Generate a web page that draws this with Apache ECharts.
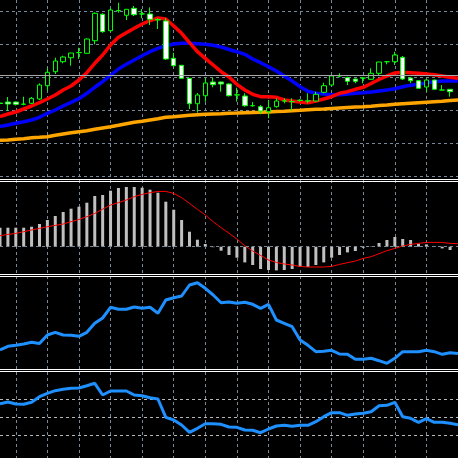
<!DOCTYPE html>
<html>
<head>
<meta charset="utf-8">
<title>chart</title>
<script src="https://cdn.jsdelivr.net/npm/echarts@6/dist/echarts.min.js"></script>
<style>
html, body { margin: 0; padding: 0; background: #000; }
#chart { width: 458px; height: 458px; }
</style>
</head>
<body>
<div id="chart"></div>
<script>
// price bars: [open, close, low, high] (points)
const candles = [
  [73, 72.5, 70, 76], [74, 72, 65, 79], [74, 71.7, 70.5, 74.5], [71.7, 71.9, 70.7, 79.3],
  [72.7, 77.7, 72, 79], [77, 91, 76, 92.7], [90.3, 103.7, 85.3, 107.7], [104.3, 115, 102, 118.3],
  [114.3, 119, 112.7, 120.3], [118.3, 123, 110.3, 123], [123.3, 123.5, 117, 128.3], [122.7, 137, 122.7, 137.5],
  [135.3, 162.7, 131.7, 163.7], [161.7, 144.3, 143.3, 162.7], [145.3, 166, 144.3, 167.7], [165.3, 165.5, 163.3, 173.3],
  [160.7, 166.7, 156, 167], [167.7, 161.3, 160, 170], [162, 162.2, 157.7, 167], [162, 156.7, 151, 168.7],
  [156.5, 156, 147, 157.7], [155, 117, 116, 157.7], [117.7, 110.3, 109.3, 123.3], [110.7, 97.7, 97, 111],
  [97.7, 72.3, 67, 98], [72.3, 81, 63.3, 83], [80.3, 93, 74.3, 98], [94, 91.3, 88.7, 98.3],
  [94, 92, 84.3, 94.3], [92, 80.3, 79.5, 92.5], [81, 81.2, 74.3, 88.3], [80, 70.3, 69.3, 82.7],
  [70.3, 70.3, 69.3, 74], [69.3, 65, 61.7, 71], [64.3, 68.3, 57.7, 76], [69.3, 75, 68.3, 77.7],
  [75, 75.2, 72.7, 77.7], [74.3, 74.5, 65.3, 77.7], [75.7, 75.7, 74.3, 76.7], [75, 75.2, 72.7, 82.7],
  [75, 81.7, 74.3, 84.3], [83.7, 90.3, 82.7, 93.3], [91, 100, 90.3, 101], [100, 100.2, 98.7, 102.7],
  [98.3, 94.7, 91, 99.3], [97, 94.7, 92.7, 97.5], [98, 98, 92.7, 98.7], [96.7, 102.7, 96, 107.7],
  [102.7, 114, 101, 114.3], [114.3, 114.3, 111.7, 115], [114.3, 121, 111, 124.3], [118.7, 97, 96, 120],
  [98, 95.3, 93, 98.7], [95.3, 87.7, 87.3, 96], [89, 96, 84.3, 96], [96, 86.7, 86, 96.3],
  [86, 86, 86, 91], [86.7, 84.3, 79.3, 87], '-'
];
const categories = candles.map((c, i) => 'bar' + i);

// moving averages on the price pane
const maFast = [59.5, 62, 64, 67, 70, 73.3, 77, 81, 86, 90, 96, 103.3, 112.7, 121, 131, 138.7, 143.3, 147.7, 152, 155.3,
  158, 157, 150, 142.7, 133.3, 124.3, 117.7, 111, 104.3, 99, 91.7, 86, 81.7, 79.3, 79.3, 78.7, 76, 75, 74, 73.3,
  75, 77, 79.3, 82.7, 84.3, 86.7, 88.7, 92.5, 96.5, 100, 103, 103.7, 103.3, 102.7, 102, 101.3, 100, 98.7, 97.8];
const maMid = [49.5, 51, 52.7, 54.3, 56, 58.7, 62.7, 66, 70, 73.7, 77.3, 82.7, 88.7, 94.3, 100.7, 107, 111.7, 116, 120.3, 124.3,
  127.7, 130.3, 132, 132.7, 132.7, 132.3, 131.7, 130.7, 129, 126.5, 124.3, 121.7, 117, 113.3, 109.3, 105, 100, 95, 89.3, 84.7,
  82.7, 82, 81.3, 81.3, 82, 82.7, 83.3, 84, 85, 86, 87.3, 89.3, 90.7, 91.7, 93, 94.3, 95, 95, 95];
const maSlow = [35.7, 36, 36.7, 37.3, 38.3, 38.7, 39.3, 40.7, 42, 43.3, 44.3, 45.3, 46.7, 48, 49.3, 50.7, 52.3, 53.7, 54.7, 56,
  57.3, 58.7, 59.3, 60, 60.7, 61.3, 61.7, 62, 62.3, 62.8, 63, 63.3, 63.5, 63.7, 64, 64.5, 64.8, 65.3, 65.7, 66.3,
  66.7, 67, 67.5, 68, 68.5, 69, 69.3, 69.8, 70.5, 71, 71.7, 72.2, 72.7, 73.2, 73.7, 74.2, 74.7, 75.5, 76];
const bidLevel = 100.7;
const priceLevels = { min: 0, max: 165, step: 33 };

// MACD histogram and signal
const macdHist = [19, 19, 19, 19, 20, 22.7, 26.7, 30.7, 34.7, 38, 40, 44, 50.7, 51.7, 56, 58.7, 59.7, 59.7, 59, 57,
  54, 45, 37, 26.7, 15, 7, 2.7, -0.5, -4, -8.3, -11, -15.7, -18.3, -22.3, -23.3, -23.7, -23.3, -22.3, -20.3, -20.3,
  -18.3, -15.7, -11, -8.3, -5.7, -4.3, -1, -0.3, 3.7, 6.7, 9.7, 7.7, 6.7, 3, 2.3, 0.7, -1.7, -3.3, '-'];
const macdSignal = [11, 12.3, 13.3, 15, 16.7, 18.3, 20, 21.3, 22.7, 25, 27.3, 30, 33.3, 37.5, 41.7, 44, 46.7, 50, 52.3, 54,
  55.3, 55.3, 53.3, 49, 43.3, 37.3, 31.7, 25, 19, 13.5, 7.7, 1, -4.3, -8.7, -13.3, -15.7, -17.3, -18.3, -19.7, -20.3,
  -20.3, -20.3, -19.7, -17.7, -16, -14.3, -11.7, -10, -7, -4, -1.7, 0.7, 2.3, 3.3, 4.3, 4.3, 4.3, 3.3, 3];

// third and fourth panes
const osc1 = [20, 23.7, 24.7, 26, 27.7, 26.5, 35, 37.7, 35, 34.7, 33.7, 37.7, 46.7, 52, 62.7, 60.7, 60.7, 63, 61.7, 62.7,
  56.7, 70, 72.3, 74, 85, 87.3, 81.7, 75, 67.3, 68, 66.7, 67.7, 65.7, 61.7, 65.7, 50, 46.7, 43.3, 30, 24.7,
  18.3, 18.7, 19.7, 16, 15.7, 10.7, 10.7, 11.7, 9.3, 6.7, 11.7, 18.3, 18.3, 18.3, 19.7, 18.3, 15.7, 17.3, 16.5];
const osc2 = [31.6, 33.3, 31.3, 31, 33, 38.6, 42, 44.6, 46, 47, 47.3, 49.6, 52, 40.3, 44.3, 44.3, 44.3, 40.3, 39.6, 37.6,
  36.3, 18, 15.3, 10.3, 3, 7, 11.6, 11.6, 11, 8.3, 8, 5.3, 5, 2.6, 6.3, 9.3, 10, 9, 10, 10,
  13.6, 18.6, 22.6, 22.6, 20, 21.3, 22, 23.6, 29.6, 30, 33, 18.6, 17, 13, 16.6, 13, 13, 12, 10.5];
const osc2Levels = { min: 0, max: 36, step: 18 };

let gridColor = '#778899';
let dash = [3, 3];
let plotLeft = -1.7, plotWidth = 464;

function catAxis(gridIndex, withSplit) {
  return {
    type: 'category', gridIndex: gridIndex, data: categories, boundaryGap: false,
    axisLine: { show: false }, axisTick: { show: false }, axisLabel: { show: false },
    splitLine: {
      show: withSplit,
      interval: function (index) { return (index - 2) % 4 === 0; },
      lineStyle: { color: gridColor, type: dash, width: 1 }
    }
  };
}
function valAxis(gridIndex, min, max, step, lineColor) {
  return {
    type: 'value', gridIndex: gridIndex, min: min, max: max, interval: step,
    axisLine: { show: false }, axisTick: { show: false }, axisLabel: { show: false },
    splitLine: { show: !!lineColor, lineStyle: { color: lineColor || gridColor, type: dash, width: 1 } }
  };
}
function sepLine(y) {
  return { type: 'line', silent: true, z: 100, shape: { x1: 0, y1: y, x2: 458, y2: y }, style: { stroke: '#ffffff', lineWidth: 1 } };
}

let myChart = echarts.init(document.getElementById('chart'), null, { renderer: 'canvas' });
let option = {
  backgroundColor: '#000000',
  animation: false,
  grid: [
    { left: plotLeft, width: plotWidth, top: 11, height: 165 },
    { left: plotLeft, width: plotWidth, top: 182.7, height: 90 },
    { left: plotLeft, width: plotWidth, top: 280, height: 90 },
    { left: plotLeft, width: plotWidth, top: 399.3, height: 36 },
    { left: plotLeft, width: plotWidth, top: 0, height: 458 } // only for the vertical grid
  ],
  xAxis: [catAxis(0, false), catAxis(1, false), catAxis(2, false), catAxis(3, false), catAxis(4, true)],
  yAxis: [
    valAxis(0, priceLevels.min, priceLevels.max, priceLevels.step, gridColor),
    valAxis(1, -26, 64, 90, null),
    valAxis(2, 0, 90, 90, null),
    valAxis(3, osc2Levels.min, osc2Levels.max, osc2Levels.step, '#b8b8b8'),
    { type: 'value', gridIndex: 4, show: false, min: 0, max: 1 }
  ],
  graphic: [sepLine(179.5), sepLine(181.5), sepLine(274.5), sepLine(276.5), sepLine(369.5), sepLine(371.5)],
  series: [
    {
      type: 'line', xAxisIndex: 0, yAxisIndex: 0, data: maSlow, z: 2, clip: false,
      showSymbol: false, silent: true, lineStyle: { color: '#ffa500', width: 3.5 }
    },
    {
      type: 'line', xAxisIndex: 0, yAxisIndex: 0, data: maMid, z: 2, clip: false,
      showSymbol: false, silent: true, lineStyle: { color: '#0000ff', width: 3.5 }
    },
    {
      type: 'line', xAxisIndex: 0, yAxisIndex: 0, data: maFast, z: 2, clip: false,
      showSymbol: false, silent: true, lineStyle: { color: '#ff0000', width: 3.5 }
    },
    {
      type: 'candlestick', xAxisIndex: 0, yAxisIndex: 0, data: candles, z: 3, clip: false,
      barWidth: 5, silent: true,
      itemStyle: {
        color: '#000000', color0: '#ffffff',
        borderColor: '#00ff00', borderColor0: '#00ff00', borderColorDoji: '#00ff00', borderWidth: 1
      },
      markLine: {
        silent: true, symbol: ['none', 'none'], label: { show: false },
        lineStyle: { color: '#a8a8a8', type: 'solid', width: 1 },
        data: [{ yAxis: bidLevel }]
      }
    },
    {
      type: 'bar', xAxisIndex: 1, yAxisIndex: 1, data: macdHist, barWidth: 3, silent: true,
      itemStyle: { color: '#c0c0c0' },
      markLine: {
        silent: true, symbol: ['none', 'none'], label: { show: false },
        lineStyle: { color: gridColor, type: dash, width: 1 },
        data: [{ yAxis: 0 }]
      }
    },
    {
      type: 'line', xAxisIndex: 1, yAxisIndex: 1, data: macdSignal, z: 3,
      showSymbol: false, silent: true, lineStyle: { color: '#ff0000', width: 1 }
    },
    {
      type: 'line', xAxisIndex: 2, yAxisIndex: 2, data: osc1, clip: false,
      showSymbol: false, silent: true, lineStyle: { color: '#1e90ff', width: 3 }
    },
    {
      type: 'line', xAxisIndex: 3, yAxisIndex: 3, data: osc2, clip: false,
      showSymbol: false, silent: true, lineStyle: { color: '#1e90ff', width: 3 }
    }
  ]
};
myChart.setOption(option);
</script>
</body>
</html>
